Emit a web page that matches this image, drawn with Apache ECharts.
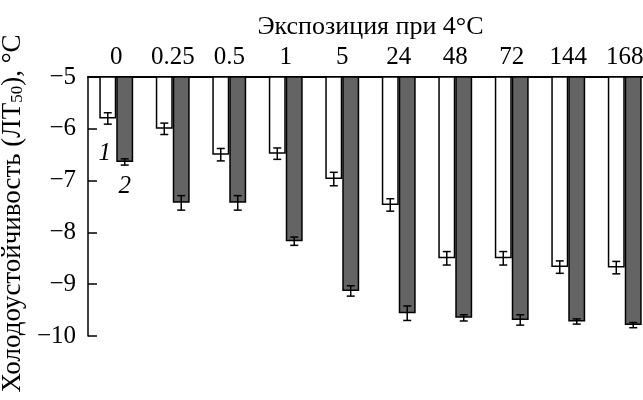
<!DOCTYPE html>
<html>
<head>
<meta charset="utf-8">
<script src="https://cdn.jsdelivr.net/npm/echarts@6/dist/echarts.min.js"></script>
<style>
  html, body { margin: 0; padding: 0; background: #fff; }
  #chart { width: 643px; height: 400px; }
</style>
</head>
<body>
<div id="chart"></div>
<script>
// Exposure time at 4°C (hours)
const categories = ['0', '0.25', '0.5', '1', '5', '24', '48', '72', '144', '168'];
// Series 1 (white bars): cold tolerance LT50, °C, with error
const series1 = [-5.8, -6.0, -6.5, -6.48, -6.97, -7.47, -8.5, -8.5, -8.67, -8.68];
const errors1 = [0.11, 0.11, 0.12, 0.11, 0.13, 0.12, 0.13, 0.13, 0.12, 0.12];
// Series 2 (dark bars)
const series2 = [-6.64, -7.43, -7.43, -8.17, -9.13, -9.56, -9.65, -9.69, -9.72, -9.79];
const errors2 = [0.06, 0.14, 0.14, 0.08, 0.10, 0.14, 0.06, 0.10, 0.05, 0.05];
const seriesNames = ['1', '2'];
const yTicks = [-10, -9, -8, -7, -6, -5];

const FONT = 'Liberation Serif';
const BAR_FRAC = 0.3;

const chart = echarts.init(document.getElementById('chart'), null, { renderer: 'canvas' });

function errData(values, errs, side) {
  return values.map((v, i) => [i, v, errs[i], side]);
}

function renderErr(params, api) {
  const idx = api.value(0);
  const v = api.value(1);
  const e = api.value(2);
  const side = api.value(3);
  const band = api.size([1, 0])[0];
  const base = api.coord([idx, v]);
  const x = base[0] + side * band * BAR_FRAC / 2;
  const yHi = api.coord([idx, v + e])[1];
  const yLo = api.coord([idx, v - e])[1];
  const cap = 4;
  const style = { stroke: '#000', lineWidth: 1.5, fill: null };
  return {
    type: 'group',
    children: [
      { type: 'line', shape: { x1: x, y1: yHi, x2: x, y2: yLo }, style },
      { type: 'line', shape: { x1: x - cap, y1: yHi, x2: x + cap, y2: yHi }, style },
      { type: 'line', shape: { x1: x - cap, y1: yLo, x2: x + cap, y2: yLo }, style }
    ]
  };
}

function firstLabel(values, text, dist, off) {
  return values.map((v, i) => i === 0 ? {
    value: v,
    label: {
      show: true, position: 'bottom', distance: dist, offset: off,
      formatter: text, fontFamily: FONT, fontStyle: 'italic', fontSize: 25, color: '#000'
    }
  } : v);
}

const option = {
  animation: false,
  backgroundColor: '#fff',
  grid: { left: 88, top: 77, width: 565, height: 259, containLabel: false, outerBoundsMode: 'none' },
  xAxis: {
    type: 'category',
    position: 'top',
    data: categories,
    name: 'Экспозиция при 4°C',
    nameLocation: 'middle',
    nameGap: 35,
    nameTextStyle: { fontFamily: FONT, fontSize: 26, color: '#000' },
    axisLine: { onZero: false, lineStyle: { color: '#000', width: 2 } },
    axisTick: { show: false },
    axisLabel: { fontFamily: FONT, fontSize: 25, color: '#000', margin: 7, interval: 0 },
    splitLine: { show: false }
  },
  yAxis: {
    type: 'value',
    min: yTicks[0],
    max: yTicks[yTicks.length - 1],
    interval: 1,
    name: 'Холодоустойчивость (ЛТ{sub|50}), °C',
    nameLocation: 'middle',
    nameGap: 60,
    nameRotate: 90,
    nameTextStyle: {
      fontFamily: FONT, fontSize: 27, color: '#000', padding: [0, 14, 0, 0],
      rich: { sub: { fontFamily: FONT, fontSize: 17, color: '#000', verticalAlign: 'bottom', padding: [10, 0, 0, 0] } }
    },
    axisLine: { show: true, lineStyle: { color: '#000', width: 1.5 } },
    axisTick: { show: true, inside: true, length: 9, lineStyle: { color: '#000', width: 1.5 } },
    axisLabel: {
      fontFamily: FONT, fontSize: 25, color: '#000', margin: 12,
      formatter: v => String(v).replace('-', '\u2212')
    },
    splitLine: { show: false }
  },
  series: [
    {
      name: seriesNames[0],
      type: 'bar',
      data: firstLabel(series1, '1', 22, [-3, 0]),
      barWidth: (BAR_FRAC * 100) + '%',
      barGap: '0%',
      itemStyle: { color: '#fff', borderColor: '#000', borderWidth: 1.5 }
    },
    {
      name: seriesNames[1],
      type: 'bar',
      data: firstLabel(series2, '2', 12, [0, 0]),
      barWidth: (BAR_FRAC * 100) + '%',
      barGap: '0%',
      itemStyle: { color: '#646464', borderColor: '#000', borderWidth: 1.5 }
    },
    {
      type: 'custom',
      renderItem: renderErr,
      data: errData(series1, errors1, -1),
      z: 5
    },
    {
      type: 'custom',
      renderItem: renderErr,
      data: errData(series2, errors2, 1),
      z: 5
    }
  ]
};

chart.setOption(option);
</script>
</body>
</html>
